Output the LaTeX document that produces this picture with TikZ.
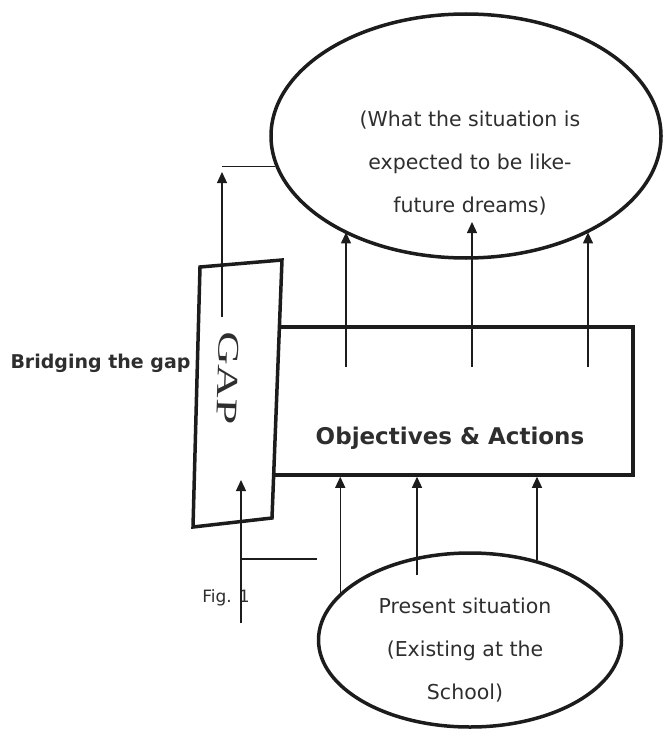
\documentclass[tikz,border=0pt]{standalone}
\usepackage{fontspec}
\setmainfont{DejaVu Sans}
\newfontfamily\gapfont{Liberation Serif}
\usepackage{tikz}
\usetikzlibrary{arrows.meta}
\usetikzlibrary{shapes.geometric}

\definecolor{ink}{HTML}{1C1C1C}
\definecolor{txt}{HTML}{2E2E2E}

\tikzset{
    bubble/.style={draw=ink, line width=3.5pt, ellipse, inner sep=0pt},
    panel/.style={draw=ink, line width=3.5pt, rectangle, inner sep=0pt},
    thin/.style={draw=ink, line width=1.2pt},
    uparrow/.style={thin, -{Triangle[length=11pt, width=10pt]}},
    say/.style={text=txt, align=center, font={\fontsize{20.5}{43}\selectfont}},
    sayb/.style={text=txt, font={\bfseries\fontsize{23}{28}\selectfont}}
}

\begin{document}
\begin{tikzpicture}[x=1pt, y=-1pt]
            \useasboundingbox (0, 0) rectangle (662, 733);

            \node [bubble, minimum width=390pt, minimum height=244pt] (future) at (466, 136) {};
            \node [say] (futuretxt) at (470, 163)
                {(What the situation is\\expected to be like-\\future dreams)};

            \node [bubble, minimum width=303pt, minimum height=174pt] (present) at (470, 640) {};
            \node [say] (presenttxt) at (465, 650)
                {Present situation\\(Existing at the\\School)};

            \node [panel, minimum width=383pt, minimum height=148pt] (obj) at (441.5, 401) {};
            \node [sayb] (objtxt) at (450, 438) {Objectives \& Actions};

            % the gap, slightly tilted
            \coordinate (g1) at (200, 267);
            \coordinate (g2) at (282, 260);
            \coordinate (g3) at (272, 518);
            \coordinate (g4) at (193, 527);
            \draw [ink, line width=3.5pt, fill=white, line join=miter] (g1) -- (g2) -- (g3) -- (g4) -- cycle;
            \node [text=txt, rotate=-92, xscale=1.55, font={\gapfont\fontsize{30}{30}\selectfont}] (gaptxt) at (228, 378) {GAP};

            \node [text=txt, anchor=east, font={\bfseries\fontsize{19}{22}\selectfont}] (bridge) at (194, 363) {Bridging the gap};
            \node [text=txt, font={\fontsize{17}{20}\selectfont}] (fig) at (226, 598) {Fig. 1};

            % from the gap up to the dream
            \coordinate (gs) at (222, 317);
            \draw [uparrow] (gs) -- (222, 172);
            \draw [thin] (gs |- future.189) -- (future.189);

            % from below into the gap
            \coordinate (bs) at (241, 623);
            \draw [uparrow] (bs) -- (241, 480);
            \coordinate (bh) at (317, 559);
            \draw [thin] (bs |- bh) -- (bh);

            % objectives -> dreams
            \coordinate (u1) at (346, 367);
            \coordinate (u2) at (472, 367);
            \coordinate (u3) at (588, 367);
            \draw [uparrow] (u1) -- (u1 |- future.218.7);
            \draw [uparrow] (u2) -- (472, 222);
            \draw [uparrow] (u3) -- (u3 |- future.322.1);

            % present -> objectives
            \coordinate (p2) at (417, 575);
            \draw [uparrow] (present.160.9) -- (present.160.9 |- obj.south);
            \draw [uparrow] (p2) -- (p2 |- obj.south);
            \draw [uparrow] (present.50.6) -- (present.50.6 |- obj.south);
        \end{tikzpicture}
\end{document}
